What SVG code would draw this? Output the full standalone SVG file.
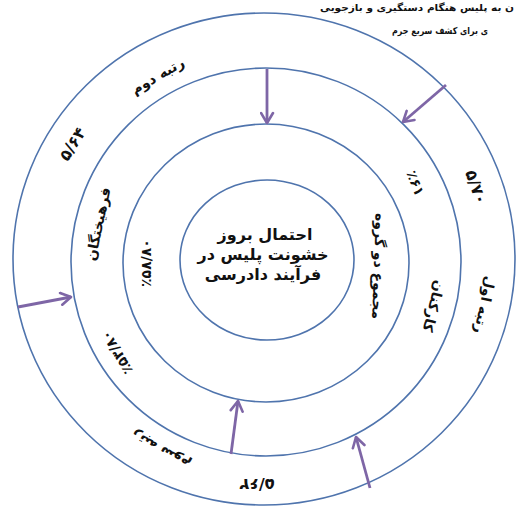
<svg xmlns="http://www.w3.org/2000/svg" width="517" height="508" viewBox="0 0 517 508">
<defs>
<marker id="ah" markerUnits="userSpaceOnUse" markerWidth="15" markerHeight="15" refX="12" refY="7.5" orient="auto">
<path d="M2,1.5 L12,7.5 L2,13.5" fill="none" stroke="#7e66a6" stroke-width="2.6" stroke-linejoin="round" stroke-linecap="round"/>
</marker>
<style>
.ring{fill:none;stroke:#4f74ad;stroke-width:1.6}
.ar{fill:none;stroke:#7e66a6;stroke-width:2.8;marker-end:url(#ah)}
.t{font-family:"DejaVu Sans","Noto Sans",sans-serif;font-weight:bold;fill:#111;text-anchor:middle}
.lbl{font-size:14px}
.num{font-size:16px}
.ctr{font-size:16px}
.top{font-family:"DejaVu Sans",sans-serif;font-weight:bold;fill:#111;font-size:9.5px}
</style>
</defs>
<rect width="517" height="508" fill="#fff"/>
<g id="ring1"><ellipse class="ring" cx="264" cy="259" rx="251" ry="246"/></g>
<g id="ring2"><ellipse class="ring" cx="266" cy="262" rx="195" ry="194"/></g>
<g id="ring3"><ellipse class="ring" cx="266" cy="263" rx="143" ry="139"/></g>
<g id="core"><ellipse class="ring" cx="267" cy="260" rx="87" ry="80"/>
<text class="t ctr" x="265" y="240">احتمال بروز</text>
<text class="t ctr" x="263" y="260">خشونت پلیس در</text>
<text class="t ctr" x="263" y="280">فرآیند دادرسی</text>
</g>
<g id="connectors">
<line class="ar" x1="267" y1="69" x2="267" y2="123"/>
<line class="ar" x1="446" y1="85" x2="403" y2="122"/>
<line class="ar" x1="18" y1="307" x2="71" y2="297"/>
<line class="ar" x1="231" y1="454" x2="238" y2="401"/>
<line class="ar" x1="370" y1="488" x2="356" y2="437"/>
</g>
<g id="header">
<text class="top" x="320" y="11" textLength="194" lengthAdjust="spacingAndGlyphs">ن به پلیس هنگام دستگیری و بازجویی</text>
<text class="top" x="392" y="34" textLength="96" lengthAdjust="spacingAndGlyphs">ی برای کشف سریع جرم</text>
</g>
<g id="outer-labels">
<text class="t lbl" transform="translate(160,80) rotate(-30)">رتبه دوم</text>
<text class="t num" transform="translate(77,147) rotate(-58)">۵/۶۴</text>
<text class="t num" transform="translate(471,189) rotate(70)">۵/۷۰</text>
<text class="t lbl" transform="translate(480,304) rotate(102)">رتبه اول</text>
<text class="t num" transform="translate(257,479) rotate(180)">۵/۶۲</text>
<text class="t lbl" transform="translate(163,446) rotate(209)">رتبه سوم</text>
</g>
<g id="middle-labels">
<text class="t lbl" transform="translate(103,225) rotate(-78)">فرهیختگان</text>
<text class="t lbl" transform="translate(121,350) rotate(239)">٪۵۳/۸۰</text>
<text class="t lbl" transform="translate(411,185) rotate(68)">٪۶۱</text>
<text class="t lbl" transform="translate(429,305) rotate(104)">کارکنان</text>
</g>
<g id="inner-labels">
<text class="t lbl" transform="translate(151,263) rotate(-90)">٪۵۸/۸۰</text>
<text class="t lbl" transform="translate(374,266) rotate(92)">مجموع دو گروه</text>
</g>
</svg>
